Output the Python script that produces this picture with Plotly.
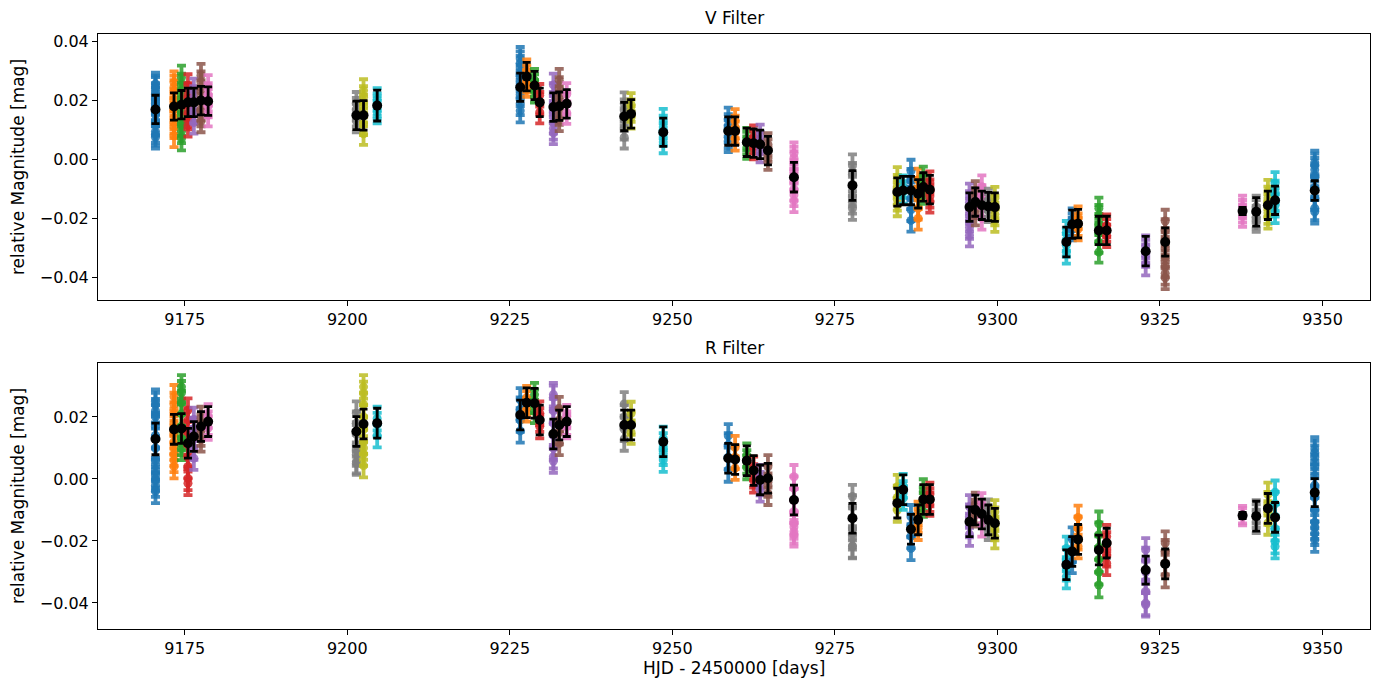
import plotly.graph_objects as go

# ---------------- data ----------------
night_x = [9170.5, 9173.35, 9174.5, 9175.5, 9176.4, 9177.5, 9178.6, 9201.4, 9202.5, 9204.6,
           9226.6, 9227.6, 9228.8, 9229.6, 9231.7, 9232.6, 9233.75, 9242.6, 9243.65, 9248.6,
           9258.6, 9259.65, 9261.45, 9262.5, 9263.5, 9264.7, 9268.7, 9277.7, 9284.6, 9285.5,
           9286.7, 9287.8, 9288.6, 9289.6, 9295.7, 9296.6, 9297.6, 9298.6, 9299.6, 9310.6,
           9311.5, 9312.4, 9315.6, 9316.8, 9322.8, 9325.8, 9337.7, 9339.8, 9341.6, 9342.7,
           9348.8]

v_points = [
    [0.0255, 0.0245, 0.024, 0.022, 0.0205, 0.019, 0.017, 0.016, 0.015, 0.012, 0.0095, 0.0085, 0.0075],
    [0.026, 0.0245, 0.023, 0.02, 0.017, 0.014, 0.0125, 0.011, 0.008],
    [0.0277, 0.025, 0.022, 0.019, 0.016, 0.012, 0.0095, 0.0071],
    [0.025, 0.022, 0.0195, 0.017, 0.014, 0.0115],
    [0.0235, 0.021, 0.019, 0.016, 0.0125],
    [0.0285, 0.026, 0.023, 0.02, 0.017, 0.015, 0.013],
    [0.0247, 0.022, 0.02, 0.018, 0.015],
    [0.019, 0.017, 0.015, 0.013],
    [0.0233, 0.021, 0.018, 0.015, 0.012, 0.0087],
    [0.0203, 0.0185, 0.0175, 0.016],
    [0.034, 0.0325, 0.031, 0.028, 0.025, 0.022, 0.019, 0.0165],
    [0.03, 0.028, 0.0265, 0.025],
    [0.0268, 0.025, 0.023],
    [0.0217, 0.019, 0.016],
    [0.0252, 0.022, 0.019, 0.016, 0.0125, 0.0105, 0.009],
    [0.0268, 0.024, 0.021, 0.018, 0.0155, 0.0134],
    [0.022, 0.019, 0.0158],
    [0.0189, 0.0165, 0.0135, 0.0105, 0.0075],
    [0.0186, 0.0165, 0.0142],
    [0.0133, 0.011, 0.0085, 0.0059],
    [0.0137, 0.0115, 0.0095, 0.0075, 0.0063],
    [0.0132, 0.011, 0.009, 0.0068],
    [0.0069, 0.0055, 0.004],
    [0.0077, 0.0058, 0.0038],
    [0.008, 0.0055, 0.0028],
    [0.0051, 0.003, 0.0003],
    [0.002, 0.0005, -0.001, -0.004, -0.007, -0.01, -0.012, -0.014],
    [-0.0021, -0.005, -0.0085, -0.012, -0.0145, -0.0166],
    [-0.0064, -0.009, -0.0115, -0.0135, -0.0154],
    [-0.0092, -0.0111],
    [-0.0039, -0.007, -0.01, -0.013, -0.017, -0.0206],
    [-0.0069, -0.01, -0.013, -0.0165, -0.0199],
    [-0.0062, -0.009, -0.0112],
    [-0.0078, -0.0105, -0.0125, -0.0142],
    [-0.012, -0.0145, -0.017, -0.0205, -0.023, -0.0256],
    [-0.0111, -0.0135, -0.016, -0.0185],
    [-0.0092, -0.0125, -0.0155, -0.0199],
    [-0.0137, -0.0155, -0.0174],
    [-0.0131, -0.016, -0.0185, -0.0207],
    [-0.0246, -0.027, -0.029, -0.0314],
    [-0.0203, -0.022, -0.0235],
    [-0.0197, -0.022, -0.0235],
    [-0.0165, -0.019, -0.022, -0.025, -0.028, -0.0313],
    [-0.0224, -0.024, -0.0258],
    [-0.0295, -0.031, -0.0325, -0.0354],
    [-0.0208, -0.024, -0.027, -0.03, -0.033, -0.036, -0.0385, -0.04],
    [-0.016, -0.0175, -0.019],
    [-0.016, -0.0175, -0.0195, -0.0207],
    [-0.0107, -0.013, -0.0155, -0.018, -0.0196],
    [-0.0081, -0.011, -0.0135, -0.0155, -0.0177],
    [-0.001, -0.002, -0.0035, -0.006, -0.0095, -0.013, -0.0165, -0.0177],
]
v_err = [0.0038, 0.0038, 0.0040, 0.0038, 0.0038, 0.0038, 0.0038, 0.0038, 0.0038, 0.0038,
         0.0040, 0.0038, 0.0038, 0.0038, 0.0038, 0.0038, 0.0038, 0.0038, 0.0038, 0.0038,
         0.0038, 0.0038, 0.0038, 0.0038, 0.0038, 0.0038, 0.0038, 0.0038, 0.0038, 0.0038,
         0.0038, 0.0038, 0.0038, 0.0038, 0.0038, 0.0038, 0.0038, 0.0038, 0.0038, 0.0038,
         0.0038, 0.0038, 0.0036, 0.0038, 0.0038, 0.0038, 0.0038, 0.0038, 0.0038, 0.0038,
         0.0040]
v_mean = [0.0169, 0.0179, 0.0185, 0.0193, 0.0193, 0.0199, 0.0197, 0.0149, 0.0149, 0.0182,
          0.0244, 0.028, 0.025, 0.0193, 0.0177, 0.018, 0.0188, 0.0145, 0.0154, 0.0092,
          0.0096, 0.0096, 0.0058, 0.0055, 0.0051, 0.003, -0.006, -0.0088, -0.011, -0.0105,
          -0.0105, -0.0116, -0.0093, -0.0102, -0.0161, -0.0144, -0.0155, -0.0159, -0.0161, -0.0279,
          -0.0219, -0.0217, -0.024, -0.024, -0.031, -0.0279, -0.0174, -0.0177, -0.0155, -0.0138,
          -0.0105]
v_mean_err = [0.0048, 0.0046, 0.0048, 0.0048, 0.0048, 0.0048, 0.0048, 0.0048, 0.0050, 0.0052,
              0.0048, 0.0048, 0.0048, 0.0048, 0.0048, 0.0048, 0.0048, 0.0048, 0.0048, 0.0048,
              0.0048, 0.0048, 0.0048, 0.0048, 0.0048, 0.0048, 0.0050, 0.0050, 0.0048, 0.0048,
              0.0048, 0.0048, 0.0048, 0.0048, 0.0048, 0.0048, 0.0048, 0.0048, 0.0048, 0.0050,
              0.0048, 0.0048, 0.0048, 0.0048, 0.0050, 0.0048, 0.0012, 0.0048, 0.0048, 0.0048,
              0.0033]

r_points = [
    [0.0251, 0.024, 0.022, 0.02, 0.017, 0.014, 0.01, 0.006, 0.003, 0.001, 0.0, -0.002, -0.004],
    [0.0265, 0.024, 0.021, 0.018, 0.015, 0.012, 0.01, 0.008, 0.006, 0.004],
    [0.0297, 0.0278, 0.0246, 0.021, 0.017, 0.013, 0.0115, 0.0099],
    [0.0222, 0.019, 0.015, 0.011, 0.007, 0.004, 0.0002, -0.0014],
    [0.0192, 0.016, 0.013, 0.01, 0.0067],
    [0.0195, 0.017, 0.0145, 0.0126],
    [0.0203, 0.018, 0.0164],
    [0.0212, 0.018, 0.0145, 0.011, 0.008, 0.0056, 0.0051],
    [0.0297, 0.0276, 0.024, 0.02, 0.016, 0.012, 0.01, 0.008, 0.0043],
    [0.0195, 0.0175, 0.014],
    [0.0255, 0.0225, 0.019, 0.0155],
    [0.0262, 0.0245, 0.0223],
    [0.0272, 0.025, 0.0218],
    [0.0212, 0.019, 0.0169],
    [0.0272, 0.0263, 0.022, 0.018, 0.014, 0.01, 0.0072, 0.0058],
    [0.0227, 0.019, 0.015, 0.0115],
    [0.0201, 0.018, 0.0169],
    [0.0242, 0.02, 0.016, 0.0129],
    [0.0211, 0.018, 0.0151],
    [0.0131, 0.011, 0.0083, 0.0061],
    [0.0139, 0.011, 0.007, 0.0029],
    [0.0101, 0.007, 0.0035],
    [0.0077, 0.0055, 0.0037],
    [0.0034, 0.001, -0.0006],
    [0.0007, -0.0015, -0.0035],
    [0.0039, 0.001, -0.002, -0.0046],
    [0.0007, -0.003, -0.007, -0.0105, -0.0143, -0.0155, -0.017, -0.018],
    [-0.0057, -0.009, -0.0125, -0.016, -0.019, -0.0216, -0.0218],
    [-0.0025, -0.006, -0.01],
    [-0.0022, -0.0045, -0.0062],
    [-0.0122, -0.015, -0.0185, -0.0224],
    [-0.0111, -0.0135, -0.0159],
    [-0.0039, -0.0065, -0.0084],
    [-0.005, -0.0068, -0.0081],
    [-0.009, -0.012, -0.015, -0.0178],
    [-0.0082, -0.0105, -0.0116],
    [-0.0084, -0.011, -0.0148],
    [-0.0104, -0.013, -0.0159],
    [-0.0106, -0.013, -0.016, -0.0186],
    [-0.0224, -0.026, -0.029, -0.0315],
    [-0.0194, -0.023, -0.0266],
    [-0.0124, -0.016, -0.019, -0.0218],
    [-0.0145, -0.018, -0.022, -0.026, -0.03, -0.0342],
    [-0.0186, -0.021, -0.0245, -0.0272],
    [-0.0229, -0.026, -0.03, -0.033, -0.0363, -0.0401, -0.0406],
    [-0.0207, -0.0235, -0.027, -0.0312],
    [-0.0115, -0.0122],
    [-0.0106, -0.012, -0.0137],
    [-0.005, -0.008, -0.011, -0.0142],
    [-0.0043, -0.008, -0.012, -0.016, -0.0202, -0.0218],
    [0.0097, 0.0085, 0.007, 0.004, 0.001, -0.002, -0.006, -0.01, -0.014, -0.0155, -0.0175, -0.0197],
]
r_err = [0.0038, 0.0038, 0.0038, 0.0038, 0.0038, 0.0038, 0.0038, 0.0038, 0.0038, 0.0038,
         0.0038, 0.0038, 0.0038, 0.0038, 0.0038, 0.0038, 0.0038, 0.0038, 0.0038, 0.0038,
         0.0038, 0.0038, 0.0038, 0.0038, 0.0038, 0.0038, 0.0038, 0.0038, 0.0038, 0.0038,
         0.0038, 0.0038, 0.0038, 0.0038, 0.0038, 0.0038, 0.0038, 0.0038, 0.0038, 0.0038,
         0.0038, 0.0038, 0.0040, 0.0038, 0.0038, 0.0038, 0.0028, 0.0038, 0.0038, 0.0038,
         0.0038]
r_mean = [0.0129, 0.016, 0.0163, 0.0115, 0.0137, 0.0169, 0.0185, 0.0153, 0.0177, 0.018,
          0.0206, 0.0246, 0.0244, 0.019, 0.0145, 0.0174, 0.0185, 0.0174, 0.0174, 0.012,
          0.0067, 0.0063, 0.0059, 0.0027, -0.0003, 0.0002, -0.0068, -0.0127, -0.0078, -0.0035,
          -0.0162, -0.0132, -0.0066, -0.0066, -0.0138, -0.01, -0.0113, -0.0132, -0.0143, -0.0277,
          -0.0234, -0.0195, -0.0229, -0.0207, -0.0294, -0.0274, -0.0118, -0.012, -0.0095, -0.0124,
          -0.0044]
r_mean_err = [0.0051, 0.0048, 0.0048, 0.0048, 0.0048, 0.0048, 0.0048, 0.0048, 0.0048, 0.0048,
              0.0048, 0.0048, 0.0048, 0.0048, 0.0048, 0.0048, 0.0048, 0.0048, 0.0048, 0.0048,
              0.0048, 0.0048, 0.0048, 0.0048, 0.0048, 0.0048, 0.0048, 0.0048, 0.0048, 0.0048,
              0.0048, 0.0048, 0.0048, 0.0048, 0.0048, 0.0048, 0.0048, 0.0048, 0.0048, 0.0048,
              0.0048, 0.0048, 0.0048, 0.0048, 0.0045, 0.0048, 0.0010, 0.0048, 0.0048, 0.0048,
              0.0045]

x_ticks = [9175, 9200, 9225, 9250, 9275, 9300, 9325, 9350]
v_yticks = [-0.04, -0.02, 0.00, 0.02, 0.04]
r_yticks = [-0.04, -0.02, 0.00, 0.02]

# ---------------- style ----------------
tab10 = ['#1f77b4', '#ff7f0e', '#2ca02c', '#d62728', '#9467bd',
         '#8c564b', '#e377c2', '#7f7f7f', '#bcbd22', '#17becf']
FONT = "DejaVu Sans"


def rgba(hexc, a):
    h = hexc.lstrip('#')
    return f"rgba({int(h[0:2],16)},{int(h[2:4],16)},{int(h[4:6],16)},{a})"


def fmt(v):
    s = f"{abs(v):.2f}"
    return ("\u2212" + s) if v < 0 else s


fig = go.Figure()

panels = [
    (v_points, v_err, v_mean, v_mean_err, 'x', 'y'),
    (r_points, r_err, r_mean, r_mean_err, 'x2', 'y2'),
]

for pts, errs, means, merrs, xa, ya in panels:
    for i, (xn, vals, e) in enumerate(zip(night_x, pts, errs)):
        col = tab10[i % 10]
        fig.add_trace(go.Scatter(
            x=[xn] * len(vals), y=vals, mode='markers', xaxis=xa, yaxis=ya,
            marker=dict(size=9, color=rgba(col, 0.85), line=dict(width=0)),
            error_y=dict(type='data', array=[e] * len(vals), visible=True,
                         color=rgba(col, 0.85), thickness=3.8, width=4.5),
            hoverinfo='skip', showlegend=False))
    fig.add_trace(go.Scatter(
        x=night_x, y=means, mode='markers', xaxis=xa, yaxis=ya,
        marker=dict(size=10, color='black', line=dict(width=0)),
        error_y=dict(type='data', array=merrs, visible=True,
                     color='black', thickness=2.8, width=4),
        hoverinfo='skip', showlegend=False))

W, H = 1387, 684
ml, mr, mt, mb = 98, 17, 34, 55
ph = H - mt - mb
pw = W - ml - mr


def py(p):
    return (H - mb - p) / ph


def px(p):
    return (p - ml) / pw


axis_common = dict(showline=True, linecolor='black', linewidth=1, mirror=True,
                   showgrid=False, zeroline=False, ticks='outside', ticklen=5,
                   tickwidth=1, tickcolor='black',
                   tickfont=dict(family=FONT, size=16, color='black'))

xr = [9161.66, 9357.3]
fig.update_layout(
    width=W, height=H,
    margin=dict(l=ml, r=mr, t=mt, b=mb),
    paper_bgcolor='white', plot_bgcolor='white',
    showlegend=False,
    xaxis=dict(domain=[0, 1], anchor='y', range=xr, tickvals=x_ticks,
               ticktext=[str(t) for t in x_ticks], **axis_common),
    yaxis=dict(domain=[py(300), 1], anchor='x', range=[-0.0475, 0.0424],
               tickvals=v_yticks, ticktext=[fmt(t) for t in v_yticks], **axis_common),
    xaxis2=dict(domain=[0, 1], anchor='y2', range=xr, tickvals=x_ticks,
                ticktext=[str(t) for t in x_ticks], **axis_common),
    yaxis2=dict(domain=[0, py(363)], anchor='x2', range=[-0.0484, 0.0374],
                tickvals=r_yticks, ticktext=[fmt(t) for t in r_yticks], **axis_common),
)

ann_font = dict(family=FONT, size=17, color='black')
lab_font = dict(family=FONT, size=17, color='black')
fig.add_annotation(text="V Filter", x=0.5, y=py(18), xref='paper', yref='paper',
                   showarrow=False, xanchor='center', yanchor='middle', font=ann_font)
fig.add_annotation(text="R Filter", x=0.5, y=py(348), xref='paper', yref='paper',
                   showarrow=False, xanchor='center', yanchor='middle', font=ann_font)
fig.add_annotation(text="HJD - 2450000 [days]", x=0.5, y=py(668), xref='paper', yref='paper',
                   showarrow=False, xanchor='center', yanchor='middle', font=lab_font)
fig.add_annotation(text="relative Magnitude [mag]", x=px(18), y=py(167), xref='paper',
                   yref='paper', showarrow=False, textangle=-90, xanchor='center',
                   yanchor='middle', font=lab_font)
fig.add_annotation(text="relative Magnitude [mag]", x=px(18), y=py(496), xref='paper',
                   yref='paper', showarrow=False, textangle=-90, xanchor='center',
                   yanchor='middle', font=lab_font)

fig.write_html("out.html")
